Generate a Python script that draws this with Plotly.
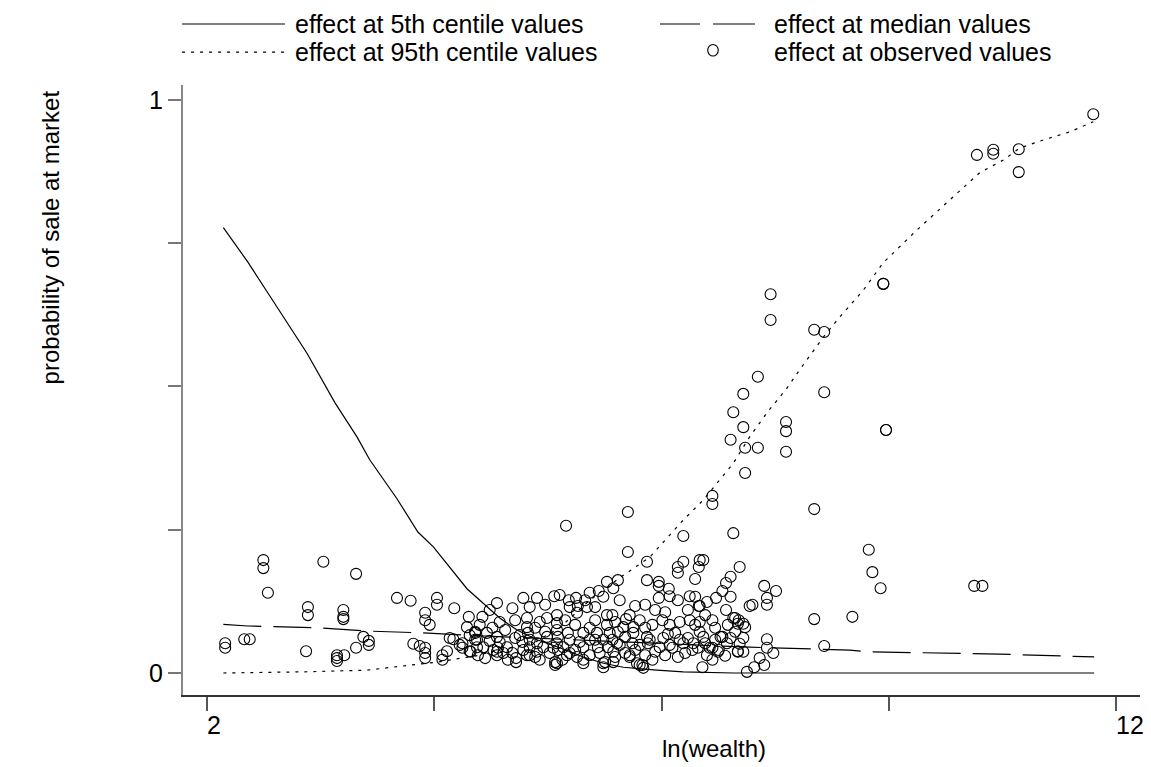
import plotly.graph_objects as go

# ---------------- data ----------------
x_p5 = [2.18, 2.45, 2.67, 3.10, 3.41, 3.65, 3.79, 4.09, 4.32, 4.49, 4.86, 5.08,
        5.22, 5.41, 5.63, 5.88, 6.14, 6.36, 6.58, 6.95, 7.24, 7.79, 11.76]
p5 = [0.777, 0.717, 0.663, 0.558, 0.471, 0.412, 0.372, 0.304, 0.246, 0.220, 0.147,
      0.115, 0.096, 0.075, 0.058, 0.044, 0.028, 0.017, 0.010, 0.005, 0.002, 0.0, 0.0]

x_med = [2.18, 2.45, 3.22, 3.79, 4.38, 5.00, 6.32, 7.97, 9.07, 9.26, 10.72, 11.76]
med = [0.085, 0.082, 0.079, 0.073, 0.070, 0.065, 0.056, 0.045, 0.040, 0.037, 0.033, 0.028]

x_p95 = [2.18, 3.06, 3.76, 4.27, 4.53, 5.00, 5.11, 5.59, 5.88, 6.21, 6.54, 6.87,
         7.24, 7.46, 7.79, 7.97, 8.16, 8.38, 8.52, 8.78, 8.96, 9.22, 9.44, 9.81,
         10.21, 10.50, 10.76, 10.94, 11.20, 11.49, 11.75]
p95 = [0.0, 0.002, 0.005, 0.014, 0.019, 0.031, 0.037, 0.052, 0.079, 0.127, 0.166,
       0.202, 0.267, 0.302, 0.366, 0.412, 0.454, 0.497, 0.529, 0.586, 0.621, 0.668,
       0.716, 0.773, 0.831, 0.873, 0.895, 0.916, 0.930, 0.944, 0.962]

obs_x = [2.62, 2.62, 2.67, 3.28, 3.64, 3.11, 3.11, 3.50, 3.50, 3.50, 2.20, 2.20, 2.41, 2.47,
         3.09, 3.43, 3.43, 3.43, 3.51, 3.64, 3.72, 3.78, 3.78, 4.09, 4.24, 4.53, 4.53, 4.40,
         4.40, 4.45, 4.72, 4.88, 4.86, 4.27, 4.34, 4.40, 4.40, 4.40, 4.59, 4.59, 4.64, 4.71,
         4.81, 4.81, 4.89, 4.95, 4.95, 4.97, 4.90, 5.06, 5.19, 5.26, 5.40, 5.40, 5.52, 5.61,
         5.83, 5.83, 5.91, 6.14, 6.14, 6.36, 6.36, 6.47, 6.65, 6.76, 6.80,
         5.95, 6.63, 7.56, 6.63, 6.84, 7.24, 7.79, 5.03, 5.11, 5.63, 5.82, 5.55, 5.52, 5.74,
         5.98, 6.06, 5.99, 6.08, 6.21, 6.31, 6.40, 6.47, 6.52, 6.07, 6.18, 6.27, 6.40, 6.46,
         6.65, 6.71, 6.61, 6.69, 6.84, 6.97, 6.97, 6.97, 7.08, 7.09, 7.18, 7.18, 7.24, 7.18,
         7.31, 7.37, 7.37, 7.42, 7.46, 7.41, 7.86, 7.76, 7.71, 7.67, 7.76, 7.29, 7.41, 7.31,
         7.48, 7.56, 7.71, 7.73, 7.81, 7.85, 7.92, 7.97,
         4.67, 4.78, 4.95, 4.97, 5.04, 5.08, 5.14, 5.19, 5.22, 5.20, 5.19, 5.30, 5.36, 5.39,
         5.47, 5.52, 5.53, 5.55, 5.55, 5.55, 5.61, 5.63, 5.63, 5.70, 5.74, 5.77, 5.85, 5.85,
         5.85, 5.86, 5.85, 5.86, 5.85, 5.92, 5.97, 5.99, 6.07, 6.14, 6.14, 6.21, 6.21, 6.29,
         6.30, 6.32, 6.36, 6.38, 6.40, 6.41, 6.46, 6.47, 6.51, 6.52, 6.54, 6.58, 6.60, 6.65,
         6.68, 6.69, 6.73, 6.79, 6.76, 6.82, 6.84, 6.85, 6.90, 6.93, 6.98, 7.02, 7.09, 7.12,
         7.09, 7.15, 7.24, 7.26, 7.29, 7.35, 7.40, 7.45, 7.46, 7.48, 7.50, 7.53, 7.62, 7.67,
         7.72, 7.84, 7.90, 7.90, 7.94,
         8.20, 8.20, 8.68, 8.79, 8.06, 7.90, 7.79, 8.79, 7.90, 8.37, 8.37, 9.47, 9.47, 7.76,
         7.92, 8.06, 8.37, 7.92, 7.56, 8.68, 9.28, 9.32, 9.41, 10.44, 10.53, 8.13, 8.26, 8.16,
         8.16, 8.00, 8.68, 9.10, 7.79, 7.84, 7.90, 7.65, 7.76, 8.16, 8.79, 8.16, 7.84, 8.23,
         7.56, 7.63, 8.02, 8.13, 7.42, 7.42,
         10.47, 10.65, 10.65, 10.93, 10.93, 11.75, 9.44, 9.44,
         5.19, 5.36, 5.48, 5.72, 5.88, 6.16, 6.36, 6.54, 6.82, 6.93, 7.04, 7.50, 7.60,
         5.00, 5.22, 5.39, 5.66, 5.94, 6.05, 6.27, 6.49, 6.76, 6.90, 7.01, 7.20, 7.37, 7.59, 7.81,
         4.89, 5.11, 5.28, 5.44, 5.72, 5.99, 6.10, 6.27, 6.43, 6.60, 6.87, 7.07, 7.20, 7.42,
         7.59, 7.86,
         4.98, 5.15, 5.31, 5.48, 5.66, 5.81, 5.96, 6.05, 6.21, 6.49, 6.71, 6.82, 7.04, 7.18,
         7.34, 7.56, 7.70, 8.08]
obs_y = [0.197, 0.183, 0.140, 0.194, 0.173, 0.115, 0.101, 0.110, 0.098, 0.094, 0.052, 0.044, 0.059, 0.059,
         0.038, 0.031, 0.026, 0.021, 0.031, 0.044, 0.063, 0.049, 0.056, 0.131, 0.126, 0.131, 0.119, 0.105,
         0.092, 0.084, 0.113, 0.098, 0.080, 0.051, 0.047, 0.044, 0.035, 0.026, 0.031, 0.023, 0.038, 0.059,
         0.052, 0.044, 0.038, 0.072, 0.058, 0.045, 0.037, 0.026, 0.037, 0.035, 0.026, 0.019, 0.031, 0.028,
         0.019, 0.014, 0.023, 0.023, 0.017, 0.017, 0.010, 0.019, 0.028, 0.014, 0.009,
         0.257, 0.281, 0.295, 0.211, 0.194, 0.239, 0.244, 0.098, 0.110, 0.131, 0.134, 0.115, 0.096, 0.096,
         0.127, 0.131, 0.115, 0.117, 0.140, 0.143, 0.159, 0.148, 0.162, 0.105, 0.115, 0.115, 0.101, 0.101,
         0.101, 0.117, 0.094, 0.080, 0.162, 0.159, 0.152, 0.131, 0.147, 0.134, 0.127, 0.185, 0.194, 0.175,
         0.134, 0.133, 0.164, 0.197, 0.197, 0.185, 0.185, 0.168, 0.157, 0.143, 0.133, 0.110, 0.117, 0.092,
         0.101, 0.092, 0.110, 0.084, 0.096, 0.092, 0.080, 0.117,
         0.061, 0.049, 0.070, 0.058, 0.045, 0.070, 0.079, 0.063, 0.054, 0.044, 0.031, 0.045, 0.035, 0.061,
         0.054, 0.080, 0.070, 0.058, 0.045, 0.031, 0.079, 0.052, 0.037, 0.045, 0.063, 0.035, 0.101, 0.087,
         0.075, 0.063, 0.052, 0.040, 0.017, 0.045, 0.070, 0.035, 0.028, 0.045, 0.070, 0.079, 0.058, 0.070,
         0.045, 0.035, 0.058, 0.019, 0.084, 0.045, 0.058, 0.037, 0.052, 0.072, 0.049, 0.080, 0.035, 0.031,
         0.052, 0.070, 0.017, 0.014, 0.049, 0.079, 0.063, 0.052, 0.023, 0.037, 0.045, 0.061, 0.049, 0.044,
         0.084, 0.070, 0.052, 0.035, 0.061, 0.052, 0.044, 0.010, 0.063, 0.052, 0.031, 0.044, 0.037, 0.063,
         0.052, 0.037, 0.037, 0.061, 0.002,
         0.661, 0.616, 0.599, 0.595, 0.517, 0.487, 0.455, 0.490, 0.429, 0.438, 0.422, 0.424, 0.424, 0.407,
         0.393, 0.393, 0.386, 0.349, 0.309, 0.286, 0.215, 0.176, 0.148, 0.152, 0.152, 0.152, 0.143, 0.131,
         0.119, 0.119, 0.094, 0.098, 0.096, 0.086, 0.086, 0.063, 0.061, 0.059, 0.047, 0.044, 0.038, 0.035,
         0.044, 0.040, 0.010, 0.014, 0.117, 0.089,
         0.904, 0.913, 0.906, 0.914, 0.874, 0.975, 0.679, 0.679,
         0.122, 0.113, 0.131, 0.119, 0.136, 0.127, 0.133, 0.127, 0.119, 0.110, 0.106, 0.124, 0.131,
         0.084, 0.089, 0.092, 0.089, 0.092, 0.084, 0.092, 0.089, 0.092, 0.084, 0.092, 0.089, 0.084, 0.079, 0.072,
         0.066, 0.056, 0.075, 0.066, 0.072, 0.058, 0.054, 0.058, 0.070, 0.063, 0.058, 0.068, 0.058, 0.072,
         0.058, 0.051,
         0.031, 0.040, 0.023, 0.040, 0.023, 0.044, 0.031, 0.040, 0.031, 0.028, 0.040, 0.031, 0.031, 0.028,
         0.040, 0.023, 0.030, 0.026]

x_ticks = [2, 4.5, 7, 9.5, 12]
x_labels = {2: "2", 12: "12"}
y_ticks = [0, 0.25, 0.5, 0.75, 1]
y_text = ["0", "", "", "", "1"]

legend_items = ["effect at 5th centile values", "effect at median values",
                "effect at 95th centile values", "effect at observed values"]

FONT = "Liberation Sans, Arial, sans-serif"

fig = go.Figure()
fig.add_trace(go.Scatter(x=x_p5, y=p5, mode="lines", line=dict(color="black", width=1.2),
                         name=legend_items[0], showlegend=False))
fig.add_trace(go.Scatter(x=x_med, y=med, mode="lines",
                         line=dict(color="black", width=1.2, dash="38px,12px"),
                         name=legend_items[1], showlegend=False))
fig.add_trace(go.Scatter(x=x_p95, y=p95, mode="lines",
                         line=dict(color="black", width=1.2, dash="3px,6px"),
                         name=legend_items[2], showlegend=False))
fig.add_trace(go.Scatter(x=obs_x, y=obs_y, mode="markers",
                         marker=dict(symbol="circle-open", size=11, color="black",
                                     line=dict(width=1.1, color="black")),
                         name=legend_items[3], showlegend=False))

# ---------------- manual legend ----------------
shapes = [
    dict(type="line", xref="paper", yref="paper", x0=-0.001, x1=0.1066, y0=1.100, y1=1.100,
         line=dict(color="black", width=1.2)),
    dict(type="line", xref="paper", yref="paper", x0=-0.001, x1=0.1066, y0=1.054, y1=1.054,
         line=dict(color="black", width=1.2, dash="3px,6px")),
    dict(type="line", xref="paper", yref="paper", x0=0.4984, x1=0.5402, y0=1.100, y1=1.100,
         line=dict(color="black", width=1.2)),
    dict(type="line", xref="paper", yref="paper", x0=0.5538, x1=0.5977, y0=1.100, y1=1.100,
         line=dict(color="black", width=1.2)),
    dict(type="circle", xref="paper", yref="paper", x0=0.5538 - 0.0055, x1=0.5538 + 0.0055,
         y0=1.057 - 0.0095, y1=1.057 + 0.0095, line=dict(color="black", width=1.1)),
]
annotations = []
leg_pos = [(0.115, 1.100), (0.6155, 1.100), (0.115, 1.054), (0.6155, 1.054)]
for txt, (lx, ly) in zip(legend_items, leg_pos):
    annotations.append(dict(text=txt, xref="paper", yref="paper", x=lx, y=ly,
                            xanchor="left", yanchor="middle", showarrow=False,
                            font=dict(family=FONT, size=25, color="black")))

for v, t in x_labels.items():
    annotations.append(dict(text=t, xref="x", yref="paper", x=v, y=0, yshift=-14,
                            xanchor="left", yanchor="top", showarrow=False, xshift=-2,
                            font=dict(family=FONT, size=25, color="black")))
annotations.append(dict(text="ln(wealth)", xref="x", yref="paper", x=7, y=-0.0885,
                        xanchor="left", yanchor="middle", showarrow=False, xshift=-2,
                        font=dict(family=FONT, size=24, color="black")))
annotations.append(dict(text="probability of sale at market", xref="paper", yref="y",
                        x=-0.139, y=0.5, xanchor="center", yanchor="bottom", textangle=-90,
                        showarrow=False, font=dict(family=FONT, size=24, color="black")))

fig.update_layout(
    width=1151, height=767,
    margin=dict(l=183, r=11, t=85, b=72),
    paper_bgcolor="white", plot_bgcolor="white",
    font=dict(family=FONT, size=24, color="black"),
    showlegend=False,
    shapes=shapes, annotations=annotations,
    xaxis=dict(range=[1.736, 12.264], tickvals=x_ticks, showticklabels=False,
               ticks="outside", ticklen=14, tickwidth=1.5, tickcolor="#555",
               showline=True, linecolor="#333", linewidth=1.5,
               showgrid=False, zeroline=False),
    yaxis=dict(range=[-0.0384, 1.026], tickvals=y_ticks, ticktext=y_text,
               ticks="outside", ticklen=13, tickwidth=1.5, tickcolor="#777",
               tickfont=dict(family=FONT, size=25, color="black"),
               showline=True, linecolor="#888", linewidth=2,
               showgrid=False, zeroline=False),
)

fig.write_html("out.html")
